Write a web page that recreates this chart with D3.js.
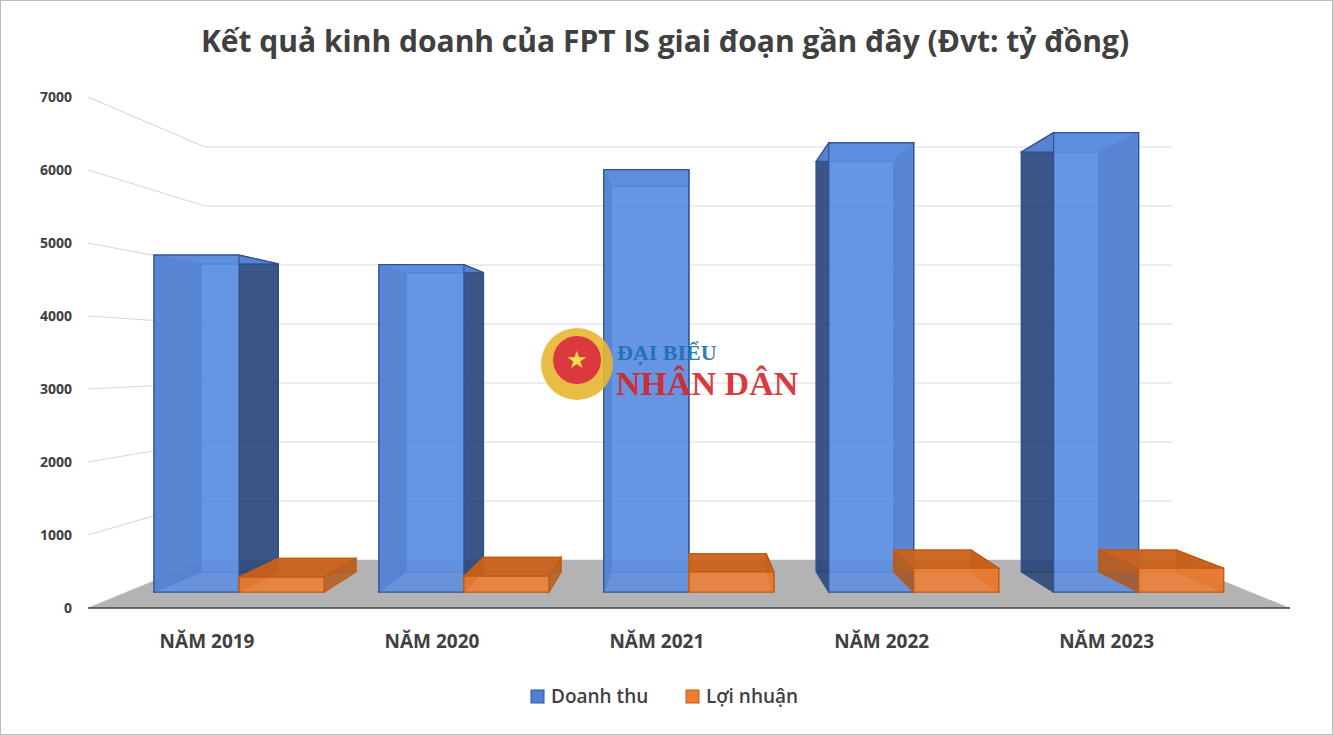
<!DOCTYPE html>
<html><head><meta charset="utf-8">
<script src="https://cdn.jsdelivr.net/npm/d3@7"></script>
<style>body{margin:0;background:#fff}svg{display:block}</style>
</head><body>
<svg id="c" width="1333" height="735"></svg>
<script>
// data
const years = ["NĂM 2019", "NĂM 2020", "NĂM 2021", "NĂM 2022", "NĂM 2023"];
const revenue = [4930, 4790, 6180, 6570, 6720];
const profit = [220, 235, 295, 350, 350];
const yTicks = [0, 1000, 2000, 3000, 4000, 5000, 6000, 7000];

const svg = d3.select("#c");
svg.append("rect").attr("x", 0.5).attr("y", 0.5).attr("width", 1332).attr("height", 734)
  .attr("fill", "#fff").attr("stroke", "#bbb");

// fake perspective: depth z in [0,1], front at z=0
const lerp = (a, b, t) => a + (b - a) * t;
const yAt = z => d3.scaleLinear().domain([0, 7000])
  .range([lerp(608, 560, z), lerp(608 - 511, 147, z)]);
const xAt = z => d3.scaleLinear().domain([0, 1])
  .range([lerp(88, 205, z), lerp(1290, 1172, z)]);
const u = d3.scaleBand().domain(years).range([0, 1]).padding(0);
const proj = (uu, v, z) => [xAt(z)(uu), yAt(z)(v)];

// back grid
const g = svg.append("g");
yTicks.forEach(v => {
  const a = proj(0, v, 0), b = proj(0, v, 1), c = proj(1, v, 1);
  g.append("polyline").attr("points", [a, b, c].map(p => p.join(",")).join(" "))
    .attr("fill", "none").attr("stroke", "#d9d9d9").attr("stroke-width", 1.2);
  g.append("text").attr("x", 72).attr("y", a[1] + 5).attr("text-anchor", "end")
    .attr("font-family", "Open Sans, sans-serif").attr("font-weight", 700)
    .attr("font-size", 14).attr("fill", "#404040").text(v);
});

// floor
svg.append("polygon")
  .attr("points", [proj(0, 0, 0), proj(1, 0, 0), proj(1, 0, 1), proj(0, 0, 1)].map(p => p.join(",")).join(" "))
  .attr("fill", "#b3b3b3");

const z0 = 0.33, z1 = 0.75;
function box(u0, u1, v, col) {
  const P = (uu, vv, z) => proj(uu, vv, z).join(",");
  const faces = [
    { pts: [P(u0, 0, z1), P(u1, 0, z1), P(u1, v, z1), P(u0, v, z1)], f: col.front, o: 0.55 },
    { pts: [P(u0, 0, z0), P(u0, 0, z1), P(u0, v, z1), P(u0, v, z0)], f: col.side, o: 0.8 },
    { pts: [P(u1, 0, z0), P(u1, 0, z1), P(u1, v, z1), P(u1, v, z0)], f: col.side, o: 0.8 },
    { pts: [P(u0, v, z0), P(u1, v, z0), P(u1, v, z1), P(u0, v, z1)], f: col.top, o: 0.9 },
    { pts: [P(u0, 0, z0), P(u1, 0, z0), P(u1, v, z0), P(u0, v, z0)], f: col.front, o: 0.85 }
  ];
  faces.forEach(fc => svg.append("polygon").attr("points", fc.pts.join(" "))
    .attr("fill", fc.f).attr("fill-opacity", fc.o).attr("stroke", col.stroke).attr("stroke-width", 1.2));
}
const blue = { front: "#5b8de0", side: "#1f3a6b", top: "#5a86d6", stroke: "#2f5597" };
const orange = { front: "#ed7d31", side: "#b35716", top: "#c8601c", stroke: "#c55a11" };
years.forEach((y, i) => {
  const m = u(y) + u.bandwidth() / 2;
  const bw = 0.0756;
  box(m - bw, m, revenue[i], blue);
  box(m, m + bw, profit[i], orange);
});

// axis line
svg.append("line").attr("x1", 88).attr("x2", 1290).attr("y1", 608).attr("y2", 608)
  .attr("stroke", "#404040").attr("stroke-width", 1.5);

years.forEach(y => {
  const [x] = proj(u(y) + u.bandwidth() / 2, 0, z0);
  svg.append("text").attr("x", x - 32).attr("y", 648).attr("text-anchor", "middle")
    .attr("font-family", "Open Sans, sans-serif").attr("font-weight", 700)
    .attr("font-size", 19).attr("fill", "#404040").text(y);
});

// watermark
const wm = svg.append("g").attr("opacity", 0.9);
wm.append("circle").attr("cx", 577).attr("cy", 364).attr("r", 36).attr("fill", "#e8b730");
wm.append("circle").attr("cx", 577).attr("cy", 360).attr("r", 24).attr("fill", "#d6242a");
wm.append("text").attr("x", 577).attr("y", 368).attr("text-anchor", "middle")
  .attr("font-size", 24).attr("fill", "#f7d53a").text("★");
wm.append("text").attr("x", 617).attr("y", 360).attr("font-family", "Liberation Serif, serif")
  .attr("font-weight", 700).attr("font-size", 22).attr("fill", "#1d6fb0").text("ĐẠI BIỂU");
wm.append("text").attr("x", 616).attr("y", 395).attr("font-family", "Liberation Serif, serif")
  .attr("font-weight", 700).attr("font-size", 34).attr("fill", "#d6242a").text("NHÂN DÂN");

// title
svg.append("text").attr("x", 665).attr("y", 52).attr("text-anchor", "middle")
  .attr("font-family", "Open Sans, sans-serif").attr("font-weight", 700)
  .attr("font-size", 30).attr("fill", "#404040")
  .text("Kết quả kinh doanh của FPT IS giai đoạn gần đây (Đvt: tỷ đồng)");

// legend
const leg = [["Doanh thu", "#4f7fd6", "#2f5597", 531], ["Lợi nhuận", "#ed7d31", "#c55a11", 686]];
leg.forEach(([t, f, s, x]) => {
  svg.append("rect").attr("x", x).attr("y", 690).attr("width", 13).attr("height", 13)
    .attr("fill", f).attr("stroke", s);
  svg.append("text").attr("x", x + 20).attr("y", 703)
    .attr("font-family", "Open Sans, sans-serif").attr("font-weight", 600)
    .attr("font-size", 19).attr("fill", "#404040").text(t);
});
</script>
</body></html>
